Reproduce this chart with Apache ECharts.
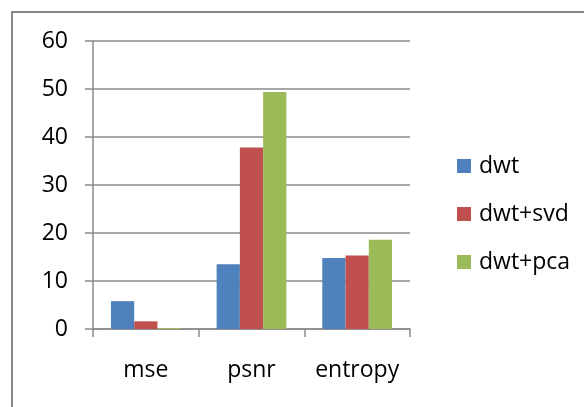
<!DOCTYPE html>
<html>
<head>
<meta charset="utf-8">
<script src="https://cdn.jsdelivr.net/npm/echarts@6/dist/echarts.min.js"></script>
<style>
html,body{margin:0;padding:0;background:#fff;}
#chart{width:584px;height:407px;}
</style>
</head>
<body>
<div id="chart"></div>
<script>
const categories = ['mse', 'psnr', 'entropy'];
const seriesNames = ['dwt', 'dwt+svd', 'dwt+pca'];
const dwt = [5.8, 13.5, 14.8];
const dwtSvd = [1.6, 37.8, 15.3];
const dwtPca = [0.2, 49.4, 18.6];
const yTicks = [0, 10, 20, 30, 40, 50, 60];
const colors = ['#4F81BD', '#C0504D', '#9BBB59'];

const font = '"Open Sans", "Liberation Sans", sans-serif';
const axisGray = '#8a8a8a';
const values = [dwt, dwtSvd, dwtPca];

const chart = echarts.init(document.getElementById('chart'), null, {renderer: 'canvas'});
chart.setOption({
  animation: false,
  backgroundColor: '#fff',
  graphic: [{
    type: 'rect',
    shape: {x: 12, y: 12, width: 620, height: 440},
    style: {fill: 'none', stroke: '#878787', lineWidth: 2},
    silent: true
  }],
  legend: {
    orient: 'vertical',
    left: 452,
    top: 149,
    itemWidth: 14,
    itemHeight: 14,
    itemGap: 24,
    icon: 'rect',
    textStyle: {fontFamily: font, fontSize: 23, color: '#000', lineHeight: 24, padding: [0, 0, 0, 3]},
    data: seriesNames
  },
  grid: {left: 93, right: 174, top: 41, bottom: 78, containLabel: false},
  xAxis: {
    type: 'category',
    data: categories,
    axisLine: {show: true, lineStyle: {color: axisGray, width: 1.5}},
    axisTick: {show: true, length: 8, alignWithLabel: false, lineStyle: {color: axisGray, width: 1.5}},
    axisLabel: {fontFamily: font, fontSize: 23, color: '#000', margin: 30, interval: 0, hideOverlap: false}
  },
  yAxis: {
    type: 'value',
    min: yTicks[0],
    max: yTicks[yTicks.length - 1],
    interval: yTicks[1] - yTicks[0],
    axisLine: {show: true, lineStyle: {color: axisGray, width: 1.5}},
    axisTick: {show: true, length: 8, lineStyle: {color: axisGray, width: 1.5}},
    splitLine: {show: true, lineStyle: {color: axisGray, width: 1.5}},
    axisLabel: {fontFamily: font, fontSize: 23, color: '#000', margin: 25}
  },
  series: seriesNames.map((name, i) => ({
    name: name,
    type: 'bar',
    data: values[i],
    barGap: '0%',
    barCategoryGap: '34%',
    itemStyle: {color: colors[i]}
  }))
});
</script>
</body>
</html>
